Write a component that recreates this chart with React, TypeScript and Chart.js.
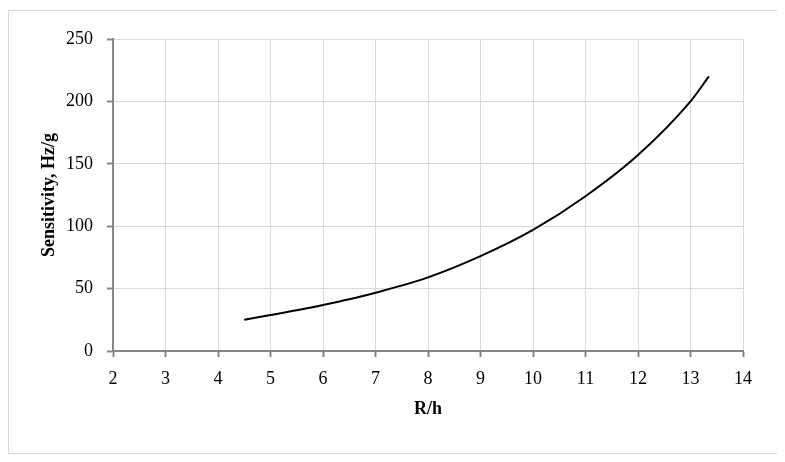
import React, { useEffect, useRef } from "react";
import { Chart, registerables } from "chart.js";

Chart.register(...registerables);

const ratioValues = [4.5, 5, 5.5, 6, 6.5, 7, 8, 9, 10, 11, 12, 13, 13.35];
const sensitivityValues = [25, 28.8, 32.6, 36.9, 41.5, 46.7, 59, 76, 97, 124, 157, 200, 220];
const xTicks = { min: 2, max: 14, step: 1 };
const yTicks = { min: 0, max: 250, step: 50 };
const xTitle = "R/h";
const yTitle = "Sensitivity, Hz/g";

const FONT = "'Liberation Serif', 'Times New Roman', serif";
const AXIS = "#868686";
const GRID = "#d9d9d9";

export default function App() {
  const ref = useRef<HTMLCanvasElement | null>(null);
  useEffect(() => {
    if (!ref.current) return;
    const chart = new Chart(ref.current, {
      type: "line",
      data: {
        datasets: [
          {
            data: ratioValues.map((x, i) => ({ x, y: sensitivityValues[i] })),
            borderColor: "#000",
            borderWidth: 2,
            pointRadius: 0,
            fill: false,
            cubicInterpolationMode: "monotone",
          },
        ],
      },
      options: {
        responsive: false,
        animation: false,
        devicePixelRatio: 1,
        layout: { padding: { left: 0, right: 34, top: 28, bottom: 0 } },
        plugins: { legend: { display: false }, tooltip: { enabled: false } },
        scales: {
          x: {
            type: "linear",
            min: xTicks.min,
            max: xTicks.max,
            afterFit: (s: any) => {
              s.height = 102;
            },
            ticks: {
              stepSize: xTicks.step,
              color: "#000",
              font: { family: FONT, size: 18 },
              padding: 11,
              maxRotation: 0,
            },
            grid: { color: GRID, lineWidth: 1, tickColor: AXIS, tickLength: 6, tickWidth: 2 },
            border: { color: AXIS, width: 2 },
            title: {
              display: true,
              text: xTitle,
              color: "#000",
              font: { family: FONT, size: 18, weight: "bold" },
              padding: { top: 0, bottom: 33 },
            },
          },
          y: {
            min: yTicks.min,
            max: yTicks.max,
            afterFit: (s: any) => {
              s.width = 104;
            },
            ticks: {
              stepSize: yTicks.step,
              color: "#000",
              font: { family: FONT, size: 18 },
              padding: 14,
            },
            grid: { color: GRID, lineWidth: 1, tickColor: AXIS, tickLength: 6, tickWidth: 2 },
            border: { color: AXIS, width: 2 },
            title: {
              display: true,
              text: yTitle,
              color: "#000",
              font: { family: FONT, size: 18, weight: "bold" },
              padding: { top: 30, bottom: 0 },
            },
          },
        },
      },
    });
    return () => chart.destroy();
  }, []);
  return (
    <div
      style={{
        marginTop: 2,
        width: 770,
        height: 444,
        border: "1px solid #d9d9d9",
        boxSizing: "border-box",
        background: "#fff",
      }}
    >
      <canvas ref={ref} width={768} height={442} style={{ display: "block" }} />
    </div>
  );
}
